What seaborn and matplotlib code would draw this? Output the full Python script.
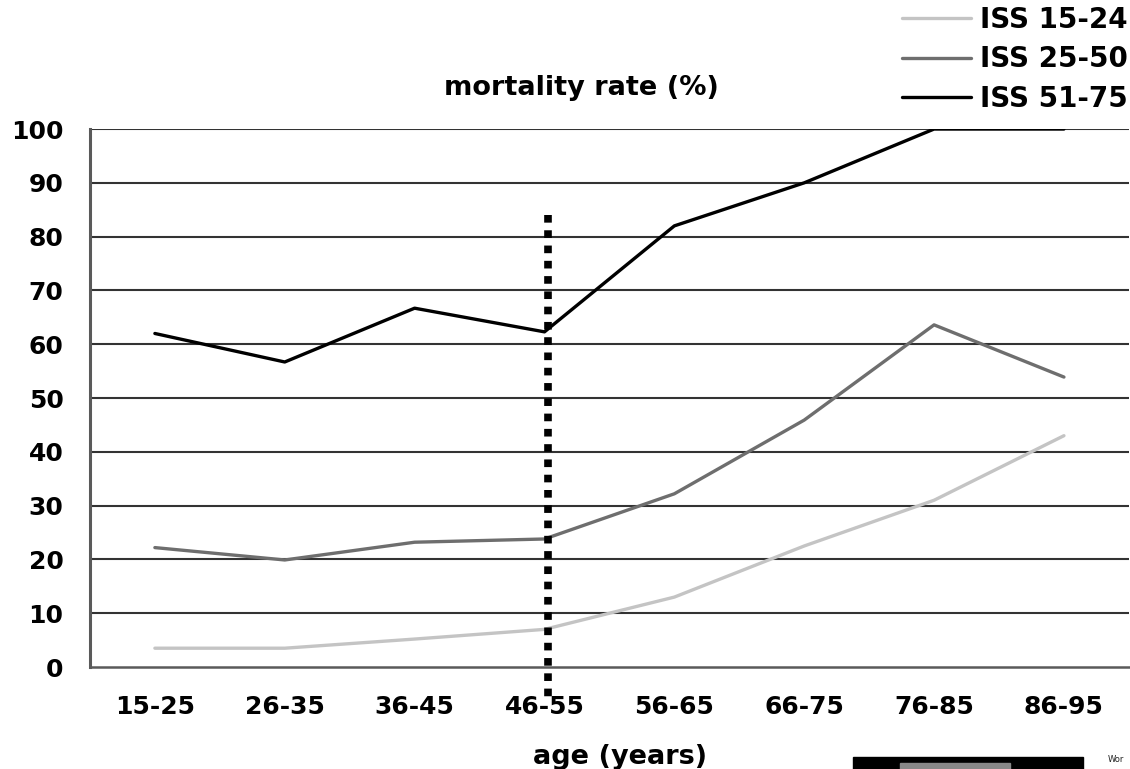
import pandas as pd
import seaborn as sns
import matplotlib.pyplot as plt
from matplotlib.patches import Rectangle

# age groups and mortality (%) per ISS band
ages = ['15-25', '26-35', '36-45', '46-55', '56-65', '66-75', '76-85', '86-95']
iss_15_24 = [3.5, 3.5, 5.2, 7, 13, 22.5, 31, 43]
iss_25_50 = [22.2, 19.9, 23.2, 23.8, 32.2, 45.9, 63.6, 53.9]
iss_51_75 = [62, 56.7, 66.7, 62.3, 82, 90, 100, 100]
series = ['ISS 15-24', 'ISS 25-50', 'ISS 51-75']
colors = ['#c4c4c4', '#6e6e6e', '#000000']

data = pd.DataFrame({'age': ages * 3,
                     'mortality': iss_15_24 + iss_25_50 + iss_51_75,
                     'group': [s for s in series for _ in ages]})

sns.set_style('white')
plt.rcParams['font.family'] = ['DejaVu Sans']
plt.rcParams['font.weight'] = 'bold'
plt.rcParams['text.color'] = 'black'
plt.rcParams['xtick.color'] = 'black'
plt.rcParams['ytick.color'] = 'black'

fig = plt.figure(figsize=(11.3, 7.69), dpi=100)
ax = fig.add_axes([0.0796, 0.1326, 0.9194, 0.6996])

# horizontal grid lines
for v in range(10, 101, 10):
    ax.axhline(v, color='#333333', lw=1.5, zorder=1)

sns.lineplot(data=data, x='age', y='mortality', hue='group', hue_order=series,
             palette=colors, linewidth=2.4, ax=ax, sort=False, zorder=3)

# dotted marker at 46-55
ax.plot([3.03, 3.03], [84, -6], color='black', lw=5.5, linestyle=(0, (1, 1)),
        dash_capstyle='butt', clip_on=False, zorder=4)

ax.set_xlim(-0.5, 7.5)
ax.set_ylim(0, 100)
ax.set_yticks(range(0, 101, 10))
ax.set_xlabel('')
ax.set_ylabel('')
ax.tick_params(axis='y', length=0, pad=19, labelsize=18)
ax.tick_params(axis='x', length=0, pad=20, labelsize=18)

for s in ['top', 'right']:
    ax.spines[s].set_visible(False)
ax.spines['left'].set_color('#5a5a5a')
ax.spines['left'].set_linewidth(2.2)
ax.spines['bottom'].set_color('#5a5a5a')
ax.spines['bottom'].set_linewidth(1.8)

handles, labels = ax.get_legend_handles_labels()
ax.legend(handles, labels, loc='upper right', bbox_to_anchor=(1.009, 1.009),
          bbox_transform=fig.transFigure, frameon=False, fontsize=20,
          handlelength=2.5, handletextpad=0.3, labelspacing=0.42,
          borderaxespad=0.05)

fig.text(581 / 1130, 1 - 88 / 769, 'mortality rate (%)', ha='center', va='center',
         fontsize=19.5, fontweight='bold')
fig.text(620 / 1130, 1 - 757 / 769, 'age (years)', ha='center', va='center',
         fontsize=19.5, fontweight='bold')

# clipped inset at bottom right
fig.patches.append(Rectangle((853 / 1130, 0), 230 / 1130, 12 / 769,
                             transform=fig.transFigure, color='black'))
fig.patches.append(Rectangle((900 / 1130, 0), 110 / 1130, 6 / 769,
                             transform=fig.transFigure, color='#888888'))
fig.text(1108 / 1130, 1 - 760 / 769, 'Wor', fontsize=6, fontweight='normal',
         va='center', color='#222222')

fig.savefig('out.png', dpi=100)
